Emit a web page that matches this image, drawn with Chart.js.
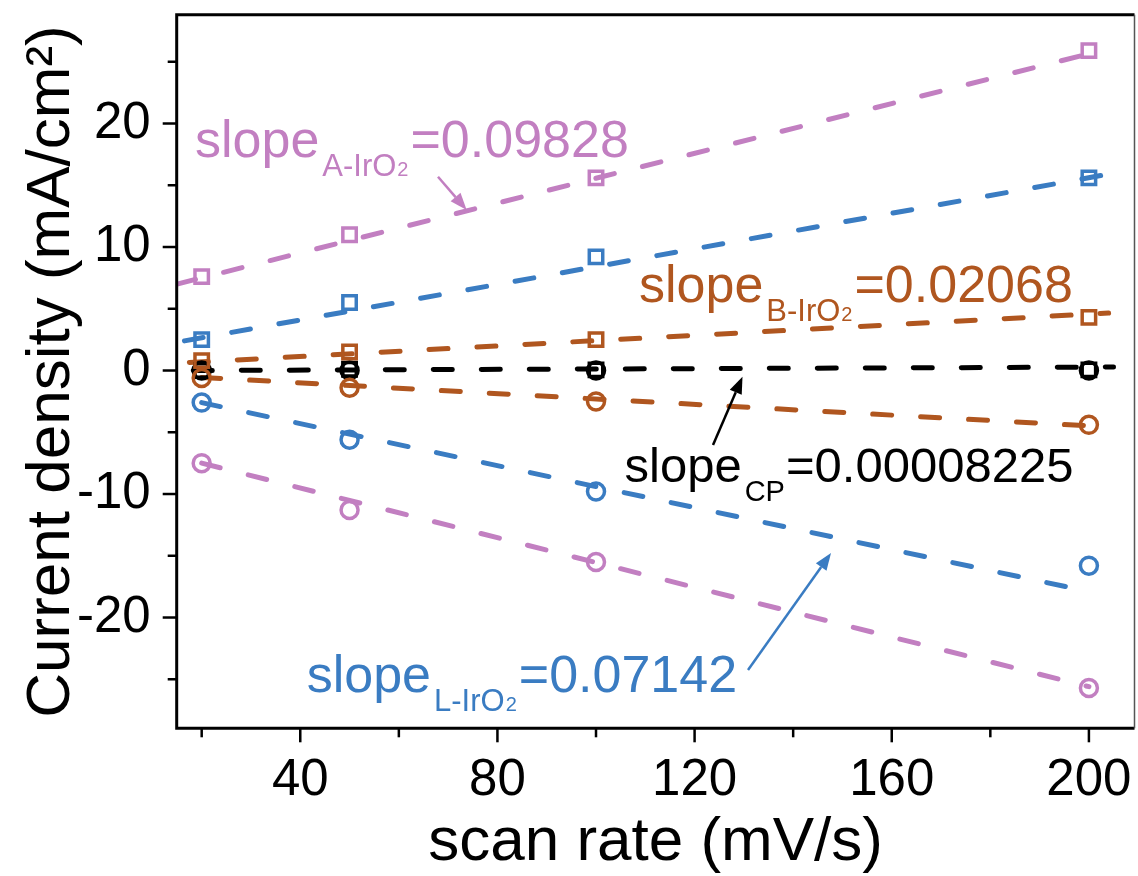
<!DOCTYPE html>
<html>
<head>
<meta charset="utf-8">
<title>Cdl scan rate plot</title>
<script src="https://cdn.jsdelivr.net/npm/chart.js@4.4.0/dist/chart.umd.min.js"></script>
<style>
    html, body { margin: 0; padding: 0; background: #fff; }
    #wrap { width: 1138px; height: 876px; position: relative; }
</style>
</head>
<body>
<div id="wrap"><canvas id="cdlChart" width="1138" height="876"></canvas></div>
<script>
// Scan rates (mV/s)
const scanRates = [20, 50, 100, 200];

// Current density (mA/cm2): squares = anodic, circles = cathodic
const aAnodic   = [7.6, 11.0, 15.6, 25.9];
const aCathodic = [-7.5, -11.3, -15.5, -25.7];
const lAnodic   = [2.5, 5.5, 9.2, 15.6];
const lCathodic = [-2.6, -5.6, -9.8, -15.8];
const bAnodic   = [0.8, 1.5, 2.5, 4.3];
const bCathodic = [-0.6, -1.4, -2.5, -4.4];
const cpAnodic  = [0.0, 0.1, 0.05, 0.05];
const cpCathodic = [0.0, 0.0, 0.0, 0.0];

// Fitted lines: [start, end]
const fitAUpX = [15, 203.5],  fitAUpY = [7.0, 26.0];
const fitLUpX = [16.5, 204],  fitLUpY = [2.4, 15.9];
const fitBUpX = [17.5, 204],  fitBUpY = [0.65, 4.65];
const fitCpX  = [18.3, 205],  fitCpY  = [0.0, 0.28];
const fitBLoX = [20, 203],    fitBLoY = [-0.56, -4.55];
const fitLLoX = [20, 200],    fitLLoY = [-2.6, -17.9];
const fitALoX = [20, 200],    fitALoY = [-7.5, -25.6];

// Axis ticks
const xTicks = [20, 40, 60, 80, 100, 120, 140, 160, 180, 200];
const xLabelled = [40, 80, 120, 160, 200];
const yTicks = [-25, -20, -15, -10, -5, 0, 5, 10, 15, 20, 25];
const yLabelled = [-20, -10, 0, 10, 20];

const PINK = '#c27fc1';
const BLUE = '#3a7cc2';
const BROWN = '#b0561f';
const BLACK = '#000000';
const FONT = '"Liberation Sans", Arial, sans-serif';

function toPoints(xs, ys) {
    return xs.map((x, i) => ({ x: x, y: ys[i] }));
}

function markerSet(ys, color, style) {
    return {
        type: 'scatter',
        data: toPoints(scanRates, ys),
        pointStyle: style,
        pointRadius: style === 'rect' ? 9.5 : 8.5,
        pointBorderWidth: 3.5,
        pointBorderColor: color,
        pointBackgroundColor: 'rgba(0,0,0,0)',
        showLine: false
    };
}

function fitSet(xs, ys, color) {
    return {
        type: 'line',
        data: toPoints(xs, ys),
        borderColor: color,
        borderWidth: 5,
        borderDash: [19, 29],
        borderCapStyle: 'round',
        pointRadius: 0,
        fill: false,
        tension: 0
    };
}

// Annotation texts: anchor is left baseline of "slope" in data units
const slopeNotes = [
    { x: 18.64, y: 17.31, size: 52, sub: 'A-IrO', sub2: '2', value: '=0.09828', color: PINK },
    { x: 108.72, y: 5.57, size: 52, sub: 'B-IrO', sub2: '2', value: '=0.02068', color: BROWN },
    { x: 105.78, y: -9.0, size: 49, sub: 'CP', sub2: '', value: '=0.00008225', color: BLACK },
    { x: 41.31, y: -26.0, size: 52, sub: 'L-IrO', sub2: '2', value: '=0.07142', color: BLUE }
];
const arrows = [
    { from: [67.94, 15.69], to: [73.76, 13.0], color: PINK },
    { from: [123.74, -6.03], to: [129.72, -0.5], color: BLACK },
    { from: [130.84, -24.25], to: [147.68, -14.78], color: BLUE }
];

const frameAndNotes = {
    id: 'frameAndNotes',
    afterDatasetsDraw(chart) {
        const ctx = chart.ctx;
        const xs = chart.scales.x;
        const ys = chart.scales.y;
        const area = chart.chartArea;

        ctx.save();
        // slope labels
        slopeNotes.forEach(n => {
            let px = xs.getPixelForValue(n.x);
            const py = ys.getPixelForValue(n.y);
            const subSize = Math.round(n.size * 0.6);
            ctx.fillStyle = n.color;
            ctx.textBaseline = 'alphabetic';
            ctx.textAlign = 'left';
            ctx.font = n.size + 'px ' + FONT;
            ctx.fillText('slope', px, py);
            px += ctx.measureText('slope').width + 3;
            ctx.font = subSize + 'px ' + FONT;
            ctx.fillText(n.sub, px, py + 19);
            px += ctx.measureText(n.sub).width;
            if (n.sub2) {
                ctx.font = Math.round(subSize * 0.64) + 'px ' + FONT;
                ctx.fillText(n.sub2, px + 1, py + 19);
                px += ctx.measureText(n.sub2).width + 2;
            }
            ctx.font = n.size + 'px ' + FONT;
            ctx.fillText(n.value, px + 1, py);
        });

        // arrows
        arrows.forEach(a => {
            const x1 = xs.getPixelForValue(a.from[0]);
            const y1 = ys.getPixelForValue(a.from[1]);
            const x2 = xs.getPixelForValue(a.to[0]);
            const y2 = ys.getPixelForValue(a.to[1]);
            const ang = Math.atan2(y2 - y1, x2 - x1);
            const headLen = 17, headW = 6.5;
            const bx = x2 - headLen * Math.cos(ang);
            const by = y2 - headLen * Math.sin(ang);
            ctx.strokeStyle = a.color;
            ctx.fillStyle = a.color;
            ctx.lineWidth = 2.5;
            ctx.beginPath();
            ctx.moveTo(x1, y1);
            ctx.lineTo(bx, by);
            ctx.stroke();
            ctx.beginPath();
            ctx.moveTo(x2, y2);
            ctx.lineTo(bx + headW * Math.sin(ang), by - headW * Math.cos(ang));
            ctx.lineTo(bx - headW * Math.sin(ang), by + headW * Math.cos(ang));
            ctx.closePath();
            ctx.fill();
        });

        // ticks, outside the frame
        ctx.strokeStyle = '#000';
        ctx.lineWidth = 2.5;
        xTicks.forEach(v => {
            const p = xs.getPixelForValue(v);
            const len = xLabelled.includes(v) ? 14 : 9;
            ctx.beginPath();
            ctx.moveTo(p, area.bottom);
            ctx.lineTo(p, area.bottom + len);
            ctx.stroke();
        });
        yTicks.forEach(v => {
            const p = ys.getPixelForValue(v);
            const len = yLabelled.includes(v) ? 14 : 9;
            ctx.beginPath();
            ctx.moveTo(area.left, p);
            ctx.lineTo(area.left - len, p);
            ctx.stroke();
        });

        // frame
        ctx.lineWidth = 3;
        ctx.beginPath();
        ctx.moveTo(area.right, area.top);
        ctx.lineTo(area.left, area.top);
        ctx.lineTo(area.left, area.bottom);
        ctx.lineTo(area.right, area.bottom);
        ctx.stroke();
        ctx.strokeStyle = '#555';
        ctx.lineWidth = 1.5;
        ctx.beginPath();
        ctx.moveTo(area.right, area.top);
        ctx.lineTo(area.right, area.bottom);
        ctx.stroke();
        ctx.restore();
    }
};

document.addEventListener('DOMContentLoaded', function() {
    const canvas = document.getElementById('cdlChart');

    new Chart(canvas, {
        data: {
            datasets: [
                markerSet(aAnodic, PINK, 'rect'),
                markerSet(aCathodic, PINK, 'circle'),
                markerSet(lAnodic, BLUE, 'rect'),
                markerSet(lCathodic, BLUE, 'circle'),
                markerSet(bAnodic, BROWN, 'rect'),
                markerSet(bCathodic, BROWN, 'circle'),
                markerSet(cpAnodic, BLACK, 'rect'),
                markerSet(cpCathodic, BLACK, 'circle'),
                fitSet(fitAUpX, fitAUpY, PINK),
                fitSet(fitLUpX, fitLUpY, BLUE),
                fitSet(fitBUpX, fitBUpY, BROWN),
                fitSet(fitCpX, fitCpY, BLACK),
                fitSet(fitBLoX, fitBLoY, BROWN),
                fitSet(fitLLoX, fitLLoY, BLUE),
                fitSet(fitALoX, fitALoY, PINK)
            ]
        },
        options: {
            responsive: false,
            animation: false,
            devicePixelRatio: 1,
            layout: {
                autoPadding: false,
                padding: { top: 14.7, right: 3.5, left: 0, bottom: 0 }
            },
            plugins: {
                legend: { display: false },
                tooltip: { enabled: false }
            },
            scales: {
                x: {
                    type: 'linear',
                    min: 14.93,
                    max: 209.25,
                    afterBuildTicks: s => { s.ticks = xTicks.map(v => ({ value: v })); },
                    afterFit: s => {
                        s.height = 147.7;
                        s.paddingLeft = 0;
                        s.paddingRight = 0;
                    },
                    grid: { display: false, drawTicks: false },
                    border: { display: false },
                    ticks: {
                        padding: 22,
                        autoSkip: false,
                        maxRotation: 0,
                        color: '#000',
                        font: { family: FONT, size: 51 },
                        callback: v => xLabelled.includes(v) ? String(v) : ''
                    },
                    title: {
                        display: true,
                        text: 'scan rate (mV/s)',
                        color: '#000',
                        font: { family: FONT, size: 62, lineHeight: 1.0 },
                        padding: { top: 0, bottom: 2 }
                    }
                },
                y: {
                    type: 'linear',
                    min: -28.97,
                    max: 28.81,
                    afterBuildTicks: s => { s.ticks = yTicks.map(v => ({ value: v })); },
                    afterFit: s => {
                        s.width = 176.7;
                        s.paddingTop = 0;
                        s.paddingBottom = 0;
                    },
                    grid: { display: false, drawTicks: false },
                    border: { display: false },
                    ticks: {
                        padding: 26,
                        autoSkip: false,
                        color: '#000',
                        font: { family: FONT, size: 51 },
                        callback: v => yLabelled.includes(v) ? String(v) : ''
                    },
                    title: {
                        display: true,
                        text: 'Current density (mA/cm²)',
                        color: '#000',
                        font: { family: FONT, size: 62, lineHeight: 1.2 },
                        padding: { top: 15, bottom: 0 }
                    }
                }
            }
        },
        plugins: [frameAndNotes]
    });
});
</script>
</body>
</html>
